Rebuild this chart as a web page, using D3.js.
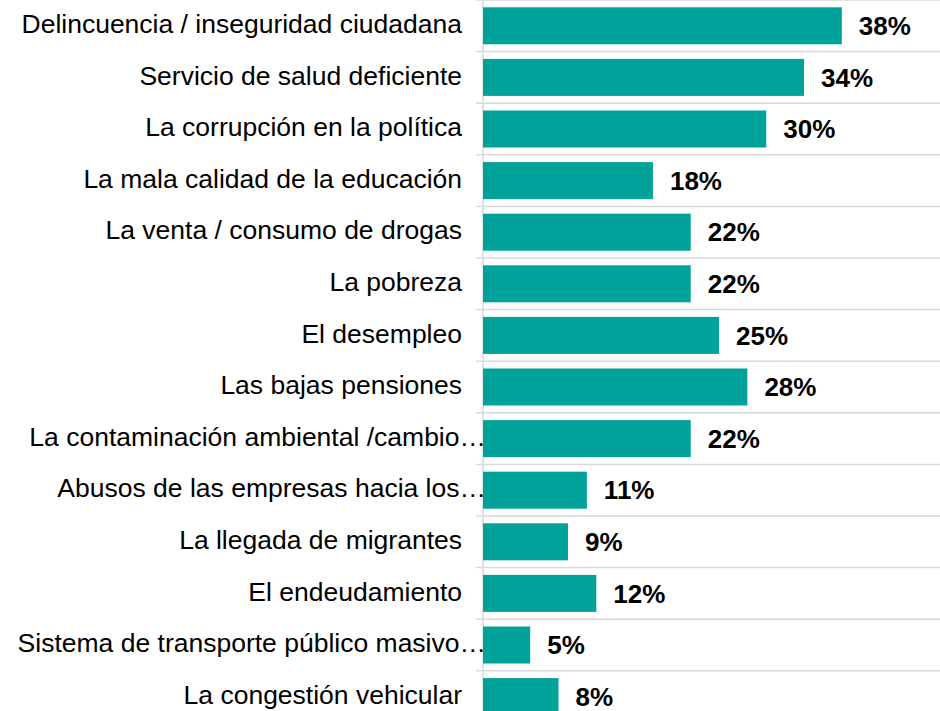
<!DOCTYPE html>
<html>
<head>
<meta charset="utf-8">
<script src="https://cdn.jsdelivr.net/npm/d3@7"></script>
<style>
  body { margin: 0; background: #fff; }
  svg { display: block; font-family: "Liberation Sans", Arial, sans-serif; }
</style>
</head>
<body>
<svg id="chart" width="940" height="711"></svg>
<script>
const categories = [
  "Delincuencia / inseguridad ciudadana",
  "Servicio de salud deficiente",
  "La corrupción en la política",
  "La mala calidad de la educación",
  "La venta / consumo de drogas",
  "La pobreza",
  "El desempleo",
  "Las bajas pensiones",
  "La contaminación ambiental /cambio…",
  "Abusos de las empresas hacia los…",
  "La llegada de migrantes",
  "El endeudamiento",
  "Sistema de transporte público masivo…",
  "La congestión vehicular",
];
const values = [0.38, 0.34, 0.3, 0.18, 0.22, 0.22, 0.25, 0.28, 0.22, 0.11, 0.09, 0.12, 0.05, 0.08];

const width = 940;
const height = 711;
const axisX = 483;
const step = 51.6;
const barColor = "#00a299";
const gridColor = "#d9d9d9";

const svg = d3.select("#chart");

const x = d3.scaleLinear().domain([0, 0.484]).range([axisX, width]);
const y = d3
  .scaleBand()
  .domain(categories)
  .range([0, step * categories.length])
  .paddingInner(0.283)
  .paddingOuter(0.1415);

const data = categories.map((c, i) => ({ name: c, value: values[i] }));

// horizontal separators between rows
svg
  .append("g")
  .selectAll("line")
  .data(categories)
  .enter()
  .append("line")
  .attr("x1", axisX - 7)
  .attr("x2", width)
  .attr("y1", (d) => y(d) - y.step() * y.paddingInner() / 2)
  .attr("y2", (d) => y(d) - y.step() * y.paddingInner() / 2)
  .style("stroke", gridColor)
  .style("stroke-width", 1.5);

// vertical axis line
svg
  .append("line")
  .attr("x1", axisX)
  .attr("x2", axisX)
  .attr("y1", 0)
  .attr("y2", height)
  .style("stroke", gridColor)
  .style("stroke-width", 1.5);

svg
  .append("g")
  .selectAll("rect")
  .data(data)
  .enter()
  .append("rect")
  .attr("x", x(0))
  .attr("y", (d) => y(d.name))
  .attr("width", (d) => x(d.value) - x(0))
  .attr("height", y.bandwidth())
  .attr("fill", barColor);

// category labels, truncated ones run up to the axis
svg
  .append("g")
  .selectAll("text")
  .data(data)
  .enter()
  .append("text")
  .attr("x", (d) => (d.name.endsWith("…") ? axisX + 3 : axisX - 21))
  .attr("y", (d) => y(d.name) + y.bandwidth() / 2 - 2)
  .attr("dy", "0.35em")
  .attr("text-anchor", "end")
  .attr("font-size", 26.5)
  .attr("fill", "#000")
  .text((d) => d.name);

// value labels
svg
  .append("g")
  .selectAll("text")
  .data(data)
  .enter()
  .append("text")
  .attr("x", (d) => x(d.value) + 17)
  .attr("y", (d) => y(d.name) + y.bandwidth() / 2)
  .attr("dy", "0.35em")
  .attr("font-size", 26)
  .attr("font-weight", "bold")
  .attr("fill", "#000")
  .text((d) => d3.format(".0%")(d.value));
</script>
</body>
</html>
